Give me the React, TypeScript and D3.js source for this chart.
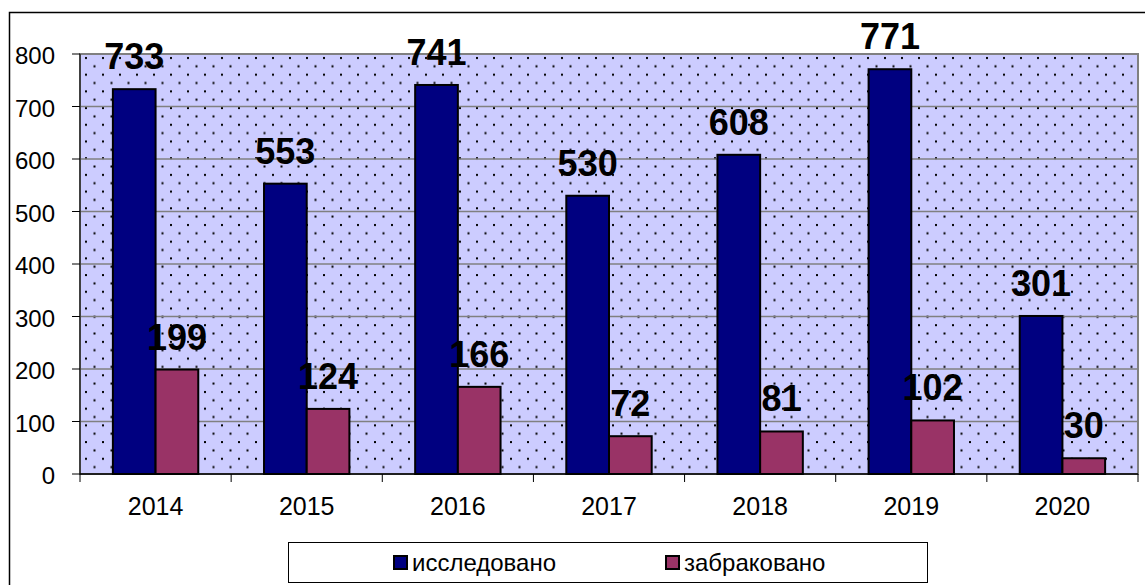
import React from 'react';
import * as d3 from 'd3';

// years along the x axis
const years = ['2014', '2015', '2016', '2017', '2018', '2019', '2020'];
// blue series
const studied = [733, 553, 741, 530, 608, 771, 301];
// red series
const rejected = [199, 124, 166, 72, 81, 102, 30];
const seriesNames = ['исследовано', 'забраковано'];
const seriesColors = ['#000080', '#993366'];
const yTicks = [0, 100, 200, 300, 400, 500, 600, 700, 800];

const App = () => {
  const W = 1145;
  const H = 585;
  const plot = { left: 80, top: 54, right: 1138, bottom: 474 };

  const x = d3.scaleBand<string>()
    .domain(years)
    .range([plot.left, plot.right])
    .paddingInner(0)
    .paddingOuter(0);

  const y = d3.scaleLinear()
    .domain([0, 800])
    .range([plot.bottom, plot.top]);

  const sub = d3.scaleBand<number>()
    .domain([0, 1])
    .range([0, x.bandwidth()])
    .paddingOuter(0.77)
    .paddingInner(0);

  const font = '"Liberation Sans", Arial, sans-serif';
  const series = [studied, rejected];

  return (
    <svg width={W} height={H} style={{ position: 'absolute', left: 0, top: 0 }} fontFamily={font}>
      <defs>
        <pattern id="dots" width={17} height={16.7} patternUnits="userSpaceOnUse" x={plot.left} y={plot.top}>
          <rect width={17} height={16.7} fill="#ccccff" />
          <rect x={5} y={3} width={2} height={2} fill="#000" />
          <rect x={13.5} y={11.3} width={2} height={2} fill="#000" />
        </pattern>
      </defs>
      <rect x={0} y={0} width={W} height={H} fill="#fff" />
      {/* outer chart frame, runs off the page */}
      <rect x={9.5} y={12.5} width={W + 20} height={H + 20} fill="none" stroke="#000" strokeWidth={1.5} />

      {/* plot area */}
      <rect x={plot.left} y={plot.top} width={plot.right - plot.left} height={plot.bottom - plot.top}
        fill="url(#dots)" stroke="#808080" strokeWidth={2} />

      {yTicks.map((t) => (
        <g key={t}>
          {t > 0 && t < 800 && (
            <line x1={plot.left} x2={plot.right} y1={y(t)} y2={y(t)} stroke="#808080" strokeWidth={1.5} />
          )}
          <line x1={plot.left - 8} x2={plot.left} y1={y(t)} y2={y(t)} stroke="#000" strokeWidth={1} />
          <text x={plot.left - 25} y={y(t) + 10} textAnchor="end" fontSize={24}>{t}</text>
        </g>
      ))}

      {/* bars */}
      {years.map((yr) => (
        <g key={yr} transform={`translate(${x(yr)},0)`}>
          {series.map((vals, si) => {
            const v = vals[years.indexOf(yr)];
            return (
              <rect key={si} x={sub(si)} y={y(v)} width={sub.bandwidth()} height={plot.bottom - y(v)}
                fill={seriesColors[si]} stroke="#000" strokeWidth={2} />
            );
          })}
        </g>
      ))}

      {/* axes */}
      <line x1={plot.left} x2={plot.left} y1={plot.top} y2={plot.bottom} stroke="#000" strokeWidth={1} />
      <line x1={plot.left} x2={plot.right} y1={plot.bottom} y2={plot.bottom} stroke="#000" strokeWidth={1.5} />
      {years.concat(['end']).map((yr, i) => {
        const px = plot.left + i * x.bandwidth();
        return <line key={yr} x1={px} x2={px} y1={plot.bottom} y2={plot.bottom + 8} stroke="#000" strokeWidth={1} />;
      })}
      {years.map((yr) => (
        <text key={yr} x={(x(yr) as number) + x.bandwidth() / 2} y={plot.bottom + 41} textAnchor="middle" fontSize={25}>{yr}</text>
      ))}

      {/* value labels */}
      {years.map((yr, i) => (
        <g key={yr}>
          {series.map((vals, si) => (
            <text key={si} x={(x(yr) as number) + (sub(si) as number) + sub.bandwidth() / 2}
              y={y(vals[i]) - 20} textAnchor="middle" fontSize={36} fontWeight="bold">{vals[i]}</text>
          ))}
        </g>
      ))}

      {/* legend */}
      <rect x={288.5} y={542.5} width={639} height={40} fill="#fff" stroke="#000" strokeWidth={1} />
      {seriesNames.map((name, i) => {
        const lx = i === 0 ? 394 : 666;
        return (
          <g key={name}>
            <rect x={lx} y={556} width={13} height={13} fill={seriesColors[i]} stroke="#000" strokeWidth={2} />
            <text x={lx + 18} y={571} fontSize={24}>{name}</text>
          </g>
        );
      })}
    </svg>
  );
};

export default App;
